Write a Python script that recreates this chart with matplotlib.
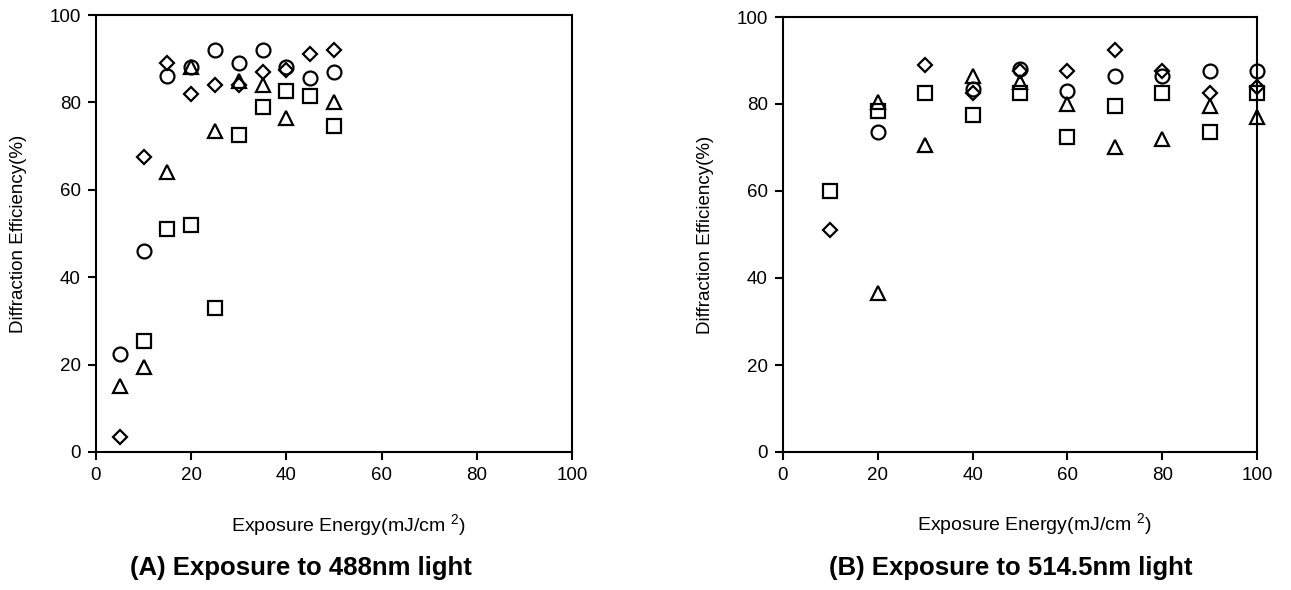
import matplotlib
matplotlib.use("Agg")
import matplotlib.pyplot as plt

plt.rcParams['font.family'] = ['Liberation Sans', 'DejaVu Sans']
plt.rcParams['mathtext.fontset'] = 'custom'
plt.rcParams['mathtext.rm'] = 'Liberation Sans'

# ---- Panel A: 488 nm ----
a_circle_x = [5, 10, 15, 20, 25, 30, 35, 40, 45, 50]
a_circle_y = [22.5, 46, 86, 88, 92, 89, 92, 88, 85.5, 87]
a_diamond_x = [5, 10, 15, 20, 25, 30, 35, 40, 45, 50]
a_diamond_y = [3.5, 67.5, 89, 82, 84, 84, 87, 87.5, 91, 92]
a_triangle_x = [5, 10, 15, 20, 25, 30, 35, 40, 50]
a_triangle_y = [15, 19.5, 64, 88, 73.5, 85, 84, 76.5, 80]
a_square_x = [10, 15, 20, 25, 30, 35, 40, 45, 50]
a_square_y = [25.5, 51, 52, 33, 72.5, 79, 82.5, 81.5, 74.5]

# ---- Panel B: 514.5 nm ----
b_circle_x = [20, 40, 50, 60, 70, 80, 90, 100]
b_circle_y = [73.5, 83.5, 88, 83, 86.5, 86.5, 87.5, 87.5]
b_diamond_x = [10, 30, 40, 50, 60, 70, 80, 90, 100]
b_diamond_y = [51, 89, 82.5, 87.5, 87.5, 92.5, 87.5, 82.5, 84]
b_triangle_x = [20, 20, 30, 40, 50, 60, 70, 80, 90, 100]
b_triangle_y = [80.5, 36.5, 70.5, 86.5, 85, 80, 70, 72, 79.5, 77]
b_square_x = [10, 20, 30, 40, 50, 60, 70, 80, 90, 100]
b_square_y = [60, 78.5, 82.5, 77.5, 82.5, 72.5, 79.5, 82.5, 73.5, 82.5]

ticks = [0, 20, 40, 60, 80, 100]
xlabel = 'Exposure Energy(mJ/cm $^{2}$)'
ylabel = 'Diffraction Efficiency(%)'
title_a = '(A) Exposure to 488nm light'
title_b = '(B) Exposure to 514.5nm light'

W, H = 1291, 590
fig = plt.figure(figsize=(W / 100, H / 100), dpi=100)
ax1 = fig.add_axes([96 / W, 138 / H, 476 / W, 437 / H])
ax2 = fig.add_axes([783 / W, 138 / H, 474 / W, 435 / H])

mk = dict(linestyle='none', markerfacecolor='none', markeredgecolor='black',
          markeredgewidth=1.6, zorder=3, clip_on=False)


def style(ax, ylab_x):
    ax.set_xlim(0, 100)
    ax.set_ylim(0, 100)
    ax.set_xticks(ticks)
    ax.set_yticks(ticks)
    for s in ax.spines.values():
        s.set_linewidth(1.5)
        s.set_color('black')
    ax.tick_params(direction='out', length=6, width=1.5, labelsize=13.5,
                   colors='black', pad=5)
    ax.set_xlabel(xlabel, fontsize=14)
    ax.set_ylabel(ylabel, fontsize=13.5)
    ax.xaxis.set_label_coords(0.53, -(512 - 452) / 437)
    ax.yaxis.set_label_coords(ylab_x, 0.5)


for ax, c, d, t, s, ylx in [
    (ax1, (a_circle_x, a_circle_y), (a_diamond_x, a_diamond_y),
     (a_triangle_x, a_triangle_y), (a_square_x, a_square_y), -(96 - 27) / 476),
    (ax2, (b_circle_x, b_circle_y), (b_diamond_x, b_diamond_y),
     (b_triangle_x, b_triangle_y), (b_square_x, b_square_y), -(783 - 714) / 474),
]:
    ax.plot(s[0], s[1], marker='s', markersize=10, **mk)
    ax.plot(t[0], t[1], marker='^', markersize=10, **mk)
    ax.plot(c[0], c[1], marker='o', markersize=10, **mk)
    ax.plot(d[0], d[1], marker='D', markersize=7.5, **mk)
    style(ax, ylx)

fig.text(301 / W, 1 - 568 / H, title_a, ha='center', va='center',
         fontsize=18.5, fontweight='bold')
fig.text(1011 / W, 1 - 568 / H, title_b, ha='center', va='center',
         fontsize=18.5, fontweight='bold')

fig.savefig('out.png', dpi=100)
